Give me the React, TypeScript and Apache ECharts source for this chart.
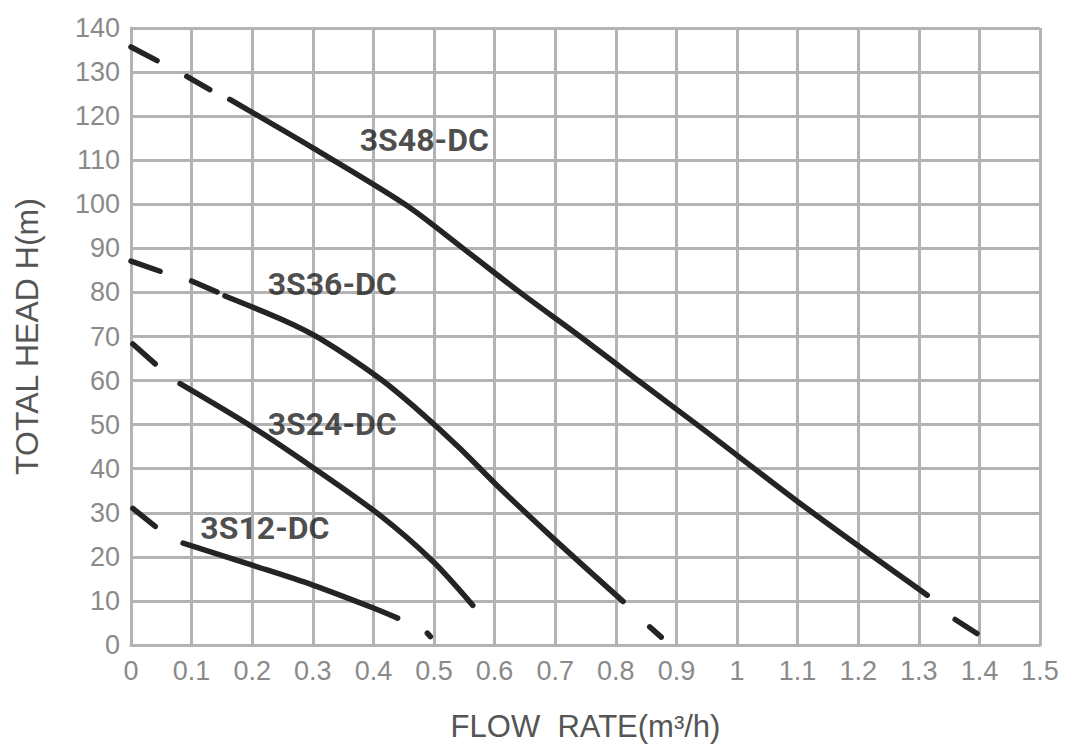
import React, { useEffect, useRef } from "react";
import * as echarts from "echarts";

// ---- data (flow rate m³/h, head m) ----
const s48Solid = [[0.163, 123.8], [0.3, 112.8], [0.452, 100.0], [0.548, 90.0], [0.642, 80.0], [0.741, 70.0], [0.837, 60.0], [0.934, 50.0], [1.12, 30.5], [1.314, 11.3]];
const s48Dashes = [
  [[0.0, 135.7], [0.043, 132.6]],
  [[0.092, 129.0], [0.13, 126.0]],
  [[1.36, 5.8], [1.396, 2.6]],
];
const s36Solid = [[0.155, 79.2], [0.25, 73.8], [0.312, 69.5], [0.411, 60.4], [0.477, 52.9], [0.543, 44.6], [0.604, 36.2], [0.7, 23.8], [0.812, 9.9]];
const s36Dashes = [
  [[0.0, 87.1], [0.048, 84.8]],
  [[0.1, 82.6], [0.142, 80.1]],
  [[0.856, 4.1], [0.875, 1.8]],
];
const s24Solid = [[0.081, 59.3], [0.2, 49.5], [0.3, 40.3], [0.411, 29.4], [0.498, 19.0], [0.564, 9.0]];
const s24Dashes = [[[0.003, 68.3], [0.04, 63.8]]];
const s12Solid = [[0.086, 23.1], [0.2, 18.1], [0.3, 13.6], [0.4, 8.4], [0.44, 6.1]];
const s12Dashes = [
  [[0.003, 31.0], [0.04, 26.9]],
  [[0.489, 2.7], [0.494, 1.9]],
];

const labelNames = ["3S48-DC", "3S36-DC", "3S24-DC", "3S12-DC"];
const labelX = [0.484, 0.332, 0.332, 0.221];
const labelY = [114.7, 81.9, 50.2, 26.5];

const xName = "FLOW  RATE(m³/h)";
const yName = "TOTAL HEAD H(m)";

const LINE_COLOR = "#242424";
const GRID_COLOR = "#b3b3b3";

function lineSeries(data: number[][], smooth: boolean) {
  return {
    type: "line",
    data,
    smooth: smooth ? 0.3 : false,
    showSymbol: false,
    symbol: "none",
    silent: true,
    z: 3,
    lineStyle: { color: LINE_COLOR, width: 5.5, cap: "round" },
  };
}

export default function App() {
  const ref = useRef<HTMLDivElement>(null);
  useEffect(() => {
    if (!ref.current) return;
    const chart = echarts.init(ref.current, undefined, { renderer: "svg" });
    const series: any[] = [];
    [s48Solid, s36Solid, s24Solid, s12Solid].forEach((d) => series.push(lineSeries(d, true)));
    [...s48Dashes, ...s36Dashes, ...s24Dashes, ...s12Dashes].forEach((d) => series.push(lineSeries(d, false)));
    series.push({
      type: "scatter",
      symbol: "circle",
      symbolSize: 2,
      itemStyle: { color: "rgba(0,0,0,0)" },
      silent: true,
      z: 5,
      data: labelNames.map((n, i) => ({ name: n, value: [labelX[i], labelY[i]] })),
      label: {
        show: true,
        position: "inside",
        formatter: "{b}",
        fontSize: 32,
        fontWeight: "bold",
        fontFamily: "Roboto, 'Liberation Sans', sans-serif",
        color: "#1e1e1e",
        textBorderWidth: 0,
      },
    });
    chart.setOption({
      animation: false,
      backgroundColor: "#ffffff",
      grid: { left: 131, top: 28, right: 30, bottom: 100, containLabel: false },
      xAxis: {
        type: "value",
        min: 0,
        max: 1.5,
        interval: 0.1,
        name: xName,
        nameLocation: "middle",
        nameGap: 66,
        nameTextStyle: { fontSize: 31, color: "#555555", fontFamily: "'Liberation Sans', Arial, sans-serif" },
        axisLine: { show: true, lineStyle: { color: GRID_COLOR, width: 3 } },
        axisTick: { show: false },
        axisLabel: { fontSize: 27, color: "#8a8a8a", margin: 12, fontFamily: "'Liberation Sans', Arial, sans-serif" },
        splitLine: { show: true, lineStyle: { color: GRID_COLOR, width: 3 } },
      },
      yAxis: {
        type: "value",
        min: 0,
        max: 140,
        interval: 10,
        name: yName,
        nameLocation: "middle",
        nameGap: 88,
        nameTextStyle: { fontSize: 32, color: "#555555", fontFamily: "'Liberation Sans', Arial, sans-serif" },
        axisLine: { show: true, lineStyle: { color: GRID_COLOR, width: 3 } },
        axisTick: { show: false },
        axisLabel: { fontSize: 27, color: "#8a8a8a", margin: 11, fontFamily: "'Liberation Sans', Arial, sans-serif" },
        splitLine: { show: true, lineStyle: { color: GRID_COLOR, width: 3 } },
      },
      series,
    });
    return () => chart.dispose();
  }, []);
  return (
    <div
      ref={ref}
      style={{ position: "absolute", left: 0, top: 0, width: 1070, height: 747, background: "#fff" }}
    />
  );
}
